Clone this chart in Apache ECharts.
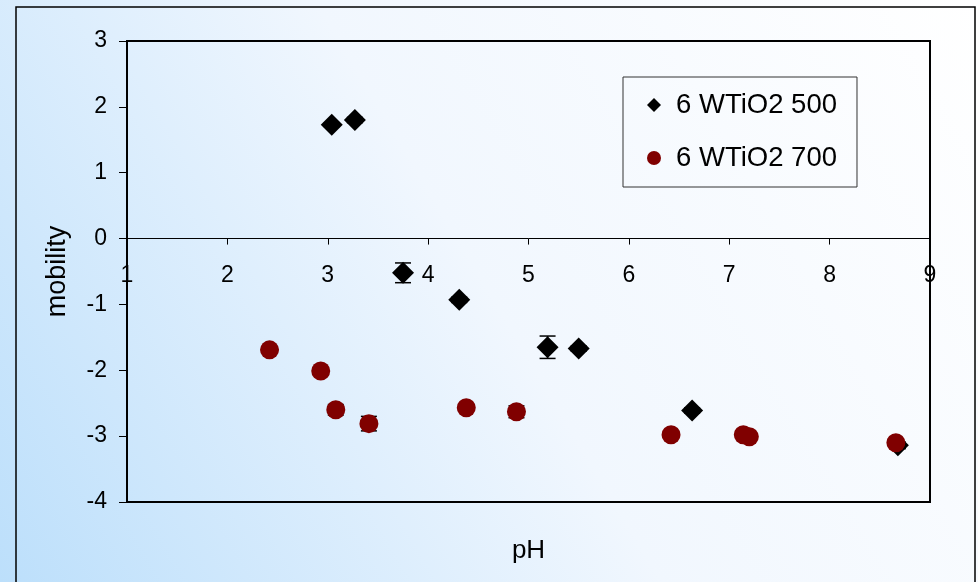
<!DOCTYPE html>
<html>
<head>
<meta charset="utf-8">
<title>mobility vs pH</title>
<script src="https://cdn.jsdelivr.net/npm/echarts@6/dist/echarts.min.js"></script>
<style>
  html, body { margin: 0; padding: 0; }
  #chart { width: 978px; height: 582px; }
</style>
</head>
<body>
<div id="chart"></div>
<script>
// values
const ph500 = [3.04, 3.27, 3.75, 4.31, 5.19, 5.50, 6.63, 8.68];
const mob500 = [1.73, 1.80, -0.52, -0.93, -1.65, -1.67, -2.61, -3.14];
const err500 = [0.03, 0.04, 0.15, 0.04, 0.17, 0.04, 0.04, 0.05];

const ph700 = [2.42, 2.93, 3.08, 3.41, 4.38, 4.88, 6.42, 7.14, 7.20, 8.66];
const mob700 = [-1.69, -2.01, -2.60, -2.81, -2.57, -2.63, -2.98, -2.98, -3.01, -3.10];
const err700 = [0.02, 0.02, 0.08, 0.11, 0.03, 0.09, 0.02, 0.03, 0.03, 0.06];

const seriesNames = ['6 WTiO2 500', '6 WTiO2 700'];

const font = "'Liberation Sans', Arial, sans-serif";

const toPoints = (xs, ys) => xs.map((x, i) => [x, ys[i]]);
const toErr = (xs, ys, es) => xs.map((x, i) => [x, ys[i], es[i]]);

// vertical error bar with caps
const renderErr = (params, api) => {
    const x = api.value(0);
    const y = api.value(1);
    const e = api.value(2);
    const top = api.coord([x, y + e]);
    const bot = api.coord([x, y - e]);
    const half = 8;
    const style = { stroke: '#000', lineWidth: 1.5 };
    return {
        type: 'group',
        children: [
            { type: 'line', shape: { x1: top[0], y1: top[1], x2: bot[0], y2: bot[1] }, style },
            { type: 'line', shape: { x1: top[0] - half, y1: top[1], x2: top[0] + half, y2: top[1] }, style },
            { type: 'line', shape: { x1: bot[0] - half, y1: bot[1], x2: bot[0] + half, y2: bot[1] }, style },
        ],
    };
};

const myChart = echarts.init(document.getElementById('chart'));

const options = {
    animation: false,
    backgroundColor: new echarts.graphic.LinearGradient(0, 1, 1, 0, [
        { offset: 0, color: '#bcdffb' },
        { offset: 0.5, color: '#f1f7fe' },
        { offset: 1, color: '#ffffff' },
    ]),
    textStyle: { fontFamily: font },
    graphic: [
        {
            type: 'rect',
            shape: { x: 16, y: 7, width: 959, height: 600 },
            style: { fill: 'none', stroke: '#000', lineWidth: 1.5 },
            silent: true,
        },
    ],
    grid: {
        left: 127,
        right: 48,
        top: 41,
        bottom: 80,
        outerBoundsMode: 'none',
        containLabel: false,
        show: true,
        borderColor: '#000',
        borderWidth: 2,
        backgroundColor: 'transparent',
    },
    legend: {
        data: seriesNames,
        orient: 'vertical',
        left: 623,
        top: 77,
        padding: [13, 20, 14, 24],
        itemGap: 23,
        itemWidth: 14,
        itemHeight: 14,
        borderColor: '#333',
        borderWidth: 1,
        textStyle: { fontSize: 27.5, color: '#000', lineHeight: 30, fontFamily: font, padding: [0, 0, 0, 10] },
    },
    xAxis: {
        type: 'value',
        name: 'pH',
        nameLocation: 'middle',
        nameGap: 36,
        nameTextStyle: { fontSize: 26, color: '#000' },
        min: 1,
        max: 9,
        interval: 1,
        axisLine: { onZero: true, lineStyle: { color: '#000', width: 1 } },
        axisTick: { show: true, length: 6, lineStyle: { color: '#000' } },
        // labels sit just under the zero line, not at the bottom edge
        axisLabel: { fontSize: 23, color: '#000', margin: -238 },
        splitLine: { show: false },
    },
    yAxis: {
        type: 'value',
        name: 'mobility',
        nameLocation: 'middle',
        nameGap: 56,
        nameTextStyle: { fontSize: 27, color: '#000' },
        min: -4,
        max: 3,
        interval: 1,
        axisLine: { onZero: false, lineStyle: { color: '#000', width: 1.5 } },
        axisTick: { show: true, length: 8, lineStyle: { color: '#000' } },
        axisLabel: { fontSize: 23, color: '#000', margin: 20 },
        splitLine: { show: false },
    },
    series: [
        {
            type: 'custom',
            renderItem: renderErr,
            data: toErr(ph500, mob500, err500),
            z: 1,
            silent: true,
        },
        {
            name: seriesNames[0],
            type: 'scatter',
            symbol: 'diamond',
            symbolSize: 22,
            itemStyle: { color: '#000', opacity: 1 },
            data: toPoints(ph500, mob500),
            z: 2,
        },
        {
            type: 'custom',
            renderItem: renderErr,
            data: toErr(ph700, mob700, err700),
            z: 3,
            silent: true,
        },
        {
            name: seriesNames[1],
            type: 'scatter',
            symbol: 'circle',
            symbolSize: 19,
            itemStyle: { color: '#800000', opacity: 1 },
            data: toPoints(ph700, mob700),
            z: 4,
        },
    ],
};

myChart.setOption(options);
</script>
</body>
</html>
